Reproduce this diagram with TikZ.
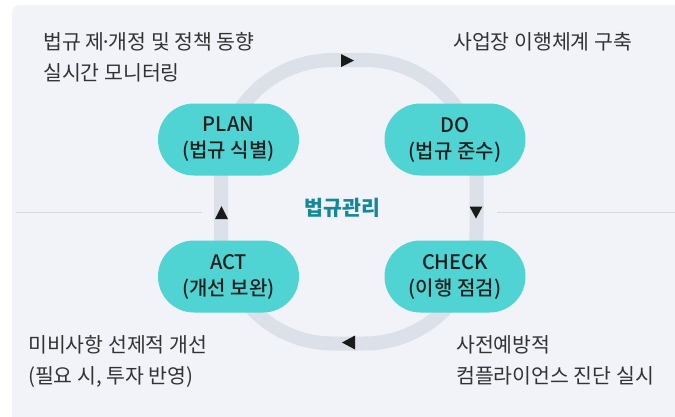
\documentclass[tikz,border=0pt]{standalone}
\usepackage{fontspec}
\setmainfont{Noto Sans CJK KR}
\newfontfamily\krmed{Noto Sans CJK KR Medium}
\definecolor{bgc}{HTML}{F2F3F9}
\definecolor{trackc}{HTML}{DCE0E8}
\definecolor{nodec}{HTML}{4FD3D3}
\definecolor{divc}{HTML}{D6DAE0}
\definecolor{tealc}{HTML}{12889A}
\definecolor{txtc}{HTML}{333333}
\definecolor{ntxt}{HTML}{1F1F1F}
\definecolor{arrc}{HTML}{1A1A1A}
\tikzset{
  pill/.style={draw=none, fill=nodec, rectangle, rounded corners=36pt,
    minimum width=141pt, minimum height=72pt, inner sep=0pt, align=center,
    text=ntxt, font=\krmed\fontsize{20}{26}\selectfont},
  note/.style={anchor=north west, inner sep=0pt, align=left, text=txtc,
    font=\fontsize{20.5}{31}\selectfont},
  track/.style={draw=trackc, line width=14pt, rounded corners=112pt},
  divider/.style={draw=divc, line width=1.5pt},
  arrowtip/.style={fill=arrc},
}
\begin{document}
\begin{tikzpicture}[x=1pt,y=-1pt]
\useasboundingbox (0,0) rectangle (675,416);
\clip (0,0) rectangle (675,416);
\fill[white] (0,0) rectangle (675,416);
\fill[bgc, rounded corners=8pt] (12,5) rectangle (700,440);
% dividers
\coordinate (dl1) at (16,212.5);
\coordinate (dl2) at (202,212.5);
\coordinate (dr1) at (497,212.5);
\coordinate (dr2) at (680,212.5);
\draw[divider] (dl1) -- (dl2);
\draw[divider] (dr1) -- (dr2);
% track
\coordinate (trTL) at (221,60);
\coordinate (trBR) at (476.5,343.5);
\draw[track] (trTL) rectangle (trBR);
% arrows
\coordinate (arT) at (347.5,60.5);
\coordinate (arR) at (476,212.5);
\coordinate (arB) at (348.5,342.5);
\coordinate (arL) at (221.5,212.5);
\fill[arrowtip] (arT) ++(-6.5,-6.5) -- ++(13,6.5) -- ++(-13,6.5) -- cycle;
\fill[arrowtip] (arR) ++(-6.5,-6) -- ++(13,0) -- ++(-6.5,12) -- cycle;
\fill[arrowtip] (arB) ++(6.5,-7) -- ++(0,14) -- ++(-13,-7) -- cycle;
\fill[arrowtip] (arL) ++(-6.5,6.5) -- ++(13,0) -- ++(-6.5,-13) -- cycle;
% nodes
\node[pill] (plan) at (228.5,139.5) {PLAN\\(법규 식별)};
\node[pill] (do) at (455,139.5) {DO\\(법규 준수)};
\node[pill] (check) at (455,276.5) {CHECK\\(이행 점검)};
\node[pill] (act) at (228.5,276.5) {ACT\\(개선 보완)};
\node[text=tealc, font=\bfseries\fontsize{20.5}{22}\selectfont, inner sep=0pt] (center) at (342.5,207.5) {법규관리};
% notes
\node[note] (n1) at (43,32.5) {법규 제\kern-3.5pt·\kern-3.5pt개정 및 정책 동향\\실시간 모니터링};
\node[note] (n2) at (453,32.5) {사업장 이행체계 구축};
\node[note] (n3) at (28,335.5) {미비사항 선제적 개선\\(필요 시, 투자 반영)};
\node[note] (n4) at (456,335.5) {사전예방적\\컴플라이언스 진단 실시};
\end{tikzpicture}
\end{document}
